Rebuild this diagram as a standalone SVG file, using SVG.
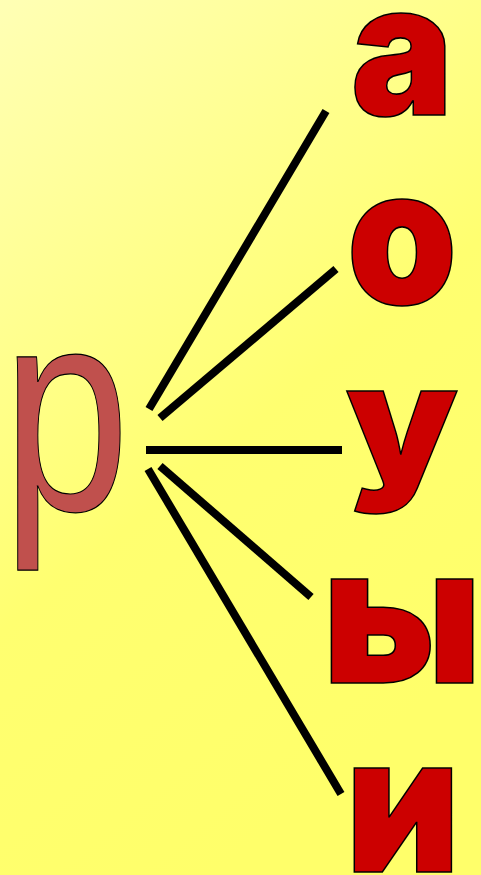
<svg xmlns="http://www.w3.org/2000/svg" width="481" height="875" viewBox="0 0 481 875">
<defs>
<linearGradient id="bg" x1="0" y1="0" x2="0.45" y2="1">
<stop offset="0" stop-color="#FFFFB5"/>
<stop offset="0.6" stop-color="#FFFF70"/>
<stop offset="1" stop-color="#FFFF6A"/>
</linearGradient>
<style>
.v{font-family:Inter,"Liberation Sans",sans-serif;font-weight:900;fill:#CC0000;stroke:#000;stroke-width:1.6;text-anchor:middle;}
.c{font-family:"Liberation Sans",Arial,sans-serif;fill:#C0504D;stroke:#000;stroke-width:1.2;text-anchor:middle;}
.ln{stroke:#000;stroke-width:8;fill:none;}
</style>
</defs>
<rect width="481" height="875" fill="url(#bg)"/>
<g id="connectors">
<line class="ln" x1="149" y1="409" x2="326" y2="111"/>
<line class="ln" x1="160" y1="418" x2="336" y2="269"/>
<line class="ln" x1="146" y1="450" x2="342" y2="450"/>
<line class="ln" x1="160" y1="466" x2="311" y2="597"/>
<line class="ln" x1="148" y1="469" x2="341" y2="794"/>
</g>
<g id="node-r"><text class="c" transform="translate(66,510) scale(0.79,1)" font-size="290">р</text></g>
<g id="node-a"><text class="v" transform="translate(402,115) scale(0.93,1)" font-size="185">а</text></g>
<g id="node-o"><text class="v" transform="translate(402,304) scale(0.93,1)" font-size="190">о</text></g>
<g id="node-u"><text class="v" transform="translate(402,480) scale(0.93,0.86)" font-size="190">у</text></g>
<g id="node-y"><text class="v" transform="translate(402,683) scale(0.97,1)" font-size="190">ы</text></g>
<g id="node-i"><text class="v" transform="translate(403,872) scale(0.93,1)" font-size="190">и</text></g>
</svg>
